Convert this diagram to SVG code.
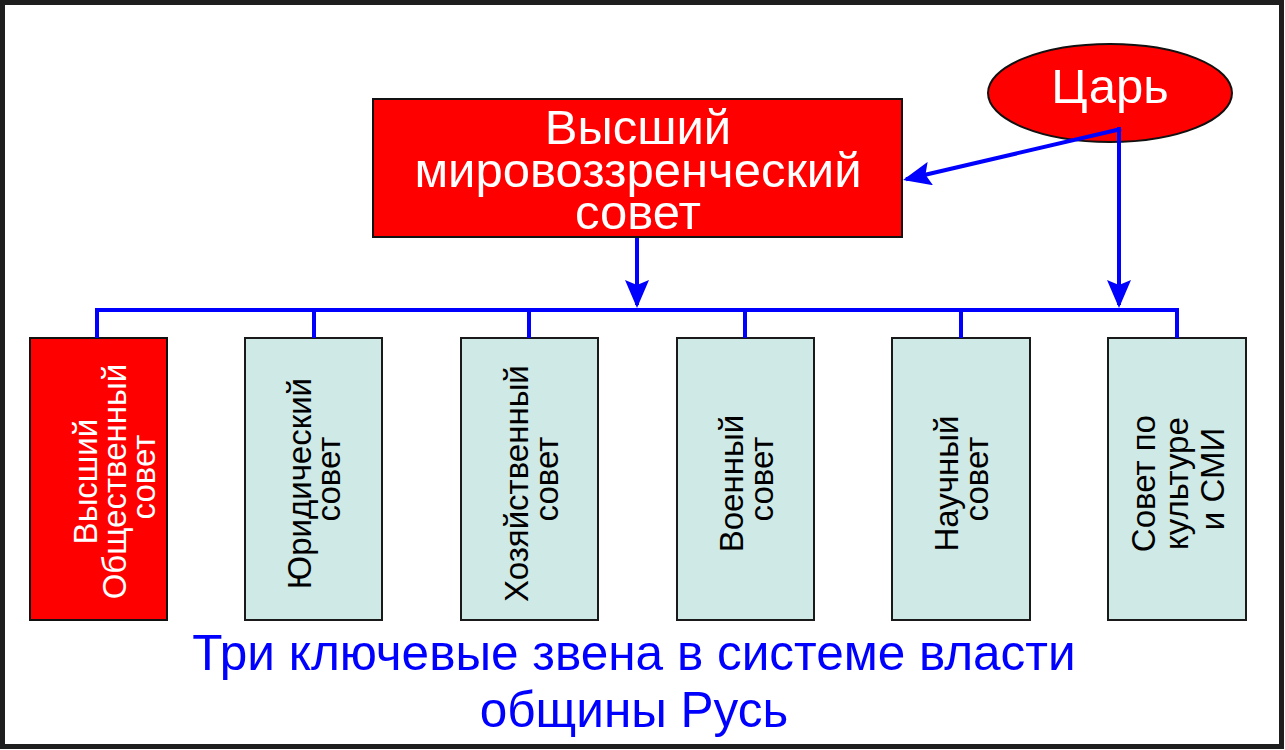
<svg xmlns="http://www.w3.org/2000/svg" width="1285" height="750" viewBox="0 0 1285 750">
  <style>
    .frame { fill: #ffffff; stroke: #1e1e1e; stroke-width: 5; }
    .red { fill: #ff0000; stroke: #111111; stroke-width: 2; }
    .cell { fill: #cfeae6; stroke: #1a1a1a; stroke-width: 2; }
    .conn { fill: none; stroke: #0000ff; stroke-width: 4; }
    .big { font-family: "Liberation Sans", Arial, sans-serif; font-size: 49px; text-anchor: middle; }
    .white { fill: #ffffff; }
    .vt { font-family: "Liberation Sans", Arial, sans-serif; font-size: 33px; text-anchor: middle; }
    .vtw { fill: #ffffff; }
    .vtb { fill: #000000; }
    .cap { fill: #0000ff; font-size: 49.5px; }
  </style>
  <defs>
    <marker id="arr" viewBox="0 0 28 24" refX="25" refY="12" markerWidth="28" markerHeight="24" markerUnits="userSpaceOnUse" orient="auto">
      <path d="M0,0 L28,12 L0,24 L5,12 Z" fill="#0000ff"/>
    </marker>
  </defs>

  <rect class="frame" x="2.5" y="2.5" width="1279" height="744"/>

  <g id="tsar">
    <ellipse class="red" cx="1110" cy="93" rx="122" ry="49"/>
    <text class="big white" x="1110" y="103">Царь</text>
  </g>

  <g id="supreme-council">
    <rect class="red" x="373" y="99" width="529" height="138"/>
    <text class="big white" x="638" y="144">Высший</text>
    <text class="big white" x="638" y="187">мировоззренческий</text>
    <text class="big white" x="638" y="229">совет</text>
  </g>

  <g id="public-council">
    <rect class="red" x="30" y="338" width="137" height="282"/>
    <text class="vt vtw" transform="translate(98.5,477) rotate(-90)">
      <tspan x="0" y="-1.5">Высший</tspan>
      <tspan x="0" y="27.5">Общественный</tspan>
      <tspan x="0" y="56.5">совет</tspan>
    </text>
  </g>

  <g id="legal-council">
    <rect class="cell" x="245" y="338" width="137" height="282"/>
    <text class="vt vtb" transform="translate(314,479) rotate(-90)">
      <tspan x="0" y="-3">Юридический</tspan>
      <tspan x="0" y="26">совет</tspan>
    </text>
  </g>

  <g id="economic-council">
    <rect class="cell" x="461" y="338" width="137" height="282"/>
    <text class="vt vtb" transform="translate(529.5,479) rotate(-90)">
      <tspan x="0" y="-1.5">Хозяйственный</tspan>
      <tspan x="0" y="28.5">совет</tspan>
    </text>
  </g>

  <g id="military-council">
    <rect class="cell" x="677" y="338" width="137" height="282"/>
    <text class="vt vtb" transform="translate(745.5,479) rotate(-90)">
      <tspan x="0" y="-2.5">Военный</tspan>
      <tspan x="0" y="27.5">совет</tspan>
    </text>
  </g>

  <g id="science-council">
    <rect class="cell" x="892" y="338" width="138" height="282"/>
    <text class="vt vtb" transform="translate(961,479) rotate(-90)">
      <tspan x="0" y="-3">Научный</tspan>
      <tspan x="0" y="27">совет</tspan>
    </text>
  </g>

  <g id="culture-council">
    <rect class="cell" x="1108" y="338" width="138" height="282"/>
    <text class="vt vtb" transform="translate(1177,479) rotate(-90)">
      <tspan x="0" y="-22">Совет по</tspan>
      <tspan x="0" y="11">культуре</tspan>
      <tspan x="0" y="47">и СМИ</tspan>
    </text>
  </g>

  <g id="connectors">
    <polyline class="conn" points="97,338 97,310 1177,310 1177,338"/>
    <line class="conn" x1="314" y1="310" x2="314" y2="338"/>
    <line class="conn" x1="529" y1="310" x2="529" y2="338"/>
    <line class="conn" x1="745" y1="310" x2="745" y2="338"/>
    <line class="conn" x1="961" y1="310" x2="961" y2="338"/>
    <line class="conn" x1="637" y1="238" x2="637" y2="305" marker-end="url(#arr)"/>
    <line class="conn" x1="1119" y1="127" x2="1119" y2="305" marker-end="url(#arr)"/>
    <line class="conn" x1="1121" y1="129" x2="906" y2="179.3" marker-end="url(#arr)"/>
  </g>

  <g id="caption">
    <text class="big cap" x="634" y="670">Три ключевые звена в системе власти</text>
    <text class="big cap" x="634" y="727">общины Русь</text>
  </g>
</svg>
